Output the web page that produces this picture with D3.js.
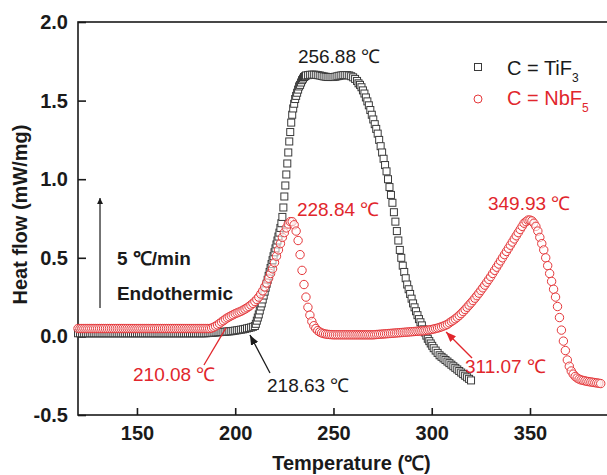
<!DOCTYPE html>
<html><head><meta charset="utf-8">
<script src="https://cdn.jsdelivr.net/npm/d3@7"></script>
<style>body{margin:0;background:#fff}svg{display:block}text{font-family:"Liberation Sans",Arial,sans-serif}</style>
</head><body>
<svg id="c" width="607" height="475"></svg>
<script>
// ---------- data ----------
const xTicks = [150, 200, 250, 300, 350];
const yTicks = [-0.5, 0.0, 0.5, 1.0, 1.5, 2.0];
const seriesNames = ["C = TiF", "C = NbF"];
const seriesSubs = ["3", "5"];
const xTitle = "Temperature (℃)";
const yTitle = "Heat flow (mW/mg)";

// C = TiF3 : [temperature, heat flow]
const tif3 = [
[120,.02],[121,.02],[122,.02],[123,.02],[124,.02],[125,.02],[126,.02],[127,.02],[128,.02],[129,.02],
[130,.02],[131,.02],[132,.02],[133,.02],[134,.02],[135,.02],[136,.02],[137,.02],[138,.02],[139,.02],
[140,.02],[141,.02],[142,.02],[143,.02],[144,.02],[145,.02],[146,.02],[147,.02],[148,.02],[149,.02],
[150,.02],[151,.02],[152,.02],[153,.02],[154,.02],[155,.02],[156,.02],[157,.02],[158,.02],[159,.02],
[160,.02],[161,.02],[162,.02],[163,.02],[164,.02],[165,.02],[166,.02],[167,.02],[168,.02],[169,.02],
[170,.02],[171,.02],[172,.02],[173,.02],[174,.02],[175,.02],[176,.02],[177,.02],[178,.02],[179,.02],
[180,.02],[181,.02],[182,.02],[183,.02],[184,.02],[185,.02],
[186,.021],[187,.022],[188,.023],[189,.024],[190,.025],[191,.026],[192,.027],[193,.028],[194,.029],[195,.03],
[196,.031],[197,.032],[198,.033],[199,.035],[200,.037],[201,.039],[202,.041],[203,.043],[204,.045],[205,.048],
[206,.051],[207,.054],[208,.057],[209,.061],[210,.066],
[210.5,.08],[211,.10],[211.5,.12],[212,.14],[212.5,.165],[213,.19],[213.5,.21],[214,.235],[214.5,.26],[215,.285],
[215.5,.31],[216,.335],[216.5,.36],[217,.385],[217.5,.41],[218,.435],[218.5,.46],[219,.485],[219.5,.51],[220,.535],
[220.5,.56],[221,.585],[221.5,.61],[222,.635],[222.5,.66],[223,.69],[223.5,.72],[224,.76],[224.5,.82],[225,.89],
[225.5,.96],[226,1.03],[226.5,1.10],[227,1.17],[227.5,1.24],[228,1.30],[228.5,1.36],[229,1.41],[229.5,1.45],[230,1.48],
[230.5,1.51],[231,1.53],[231.5,1.55],[232,1.57],[232.5,1.59],[233,1.60],[233.5,1.615],[234,1.63],[234.5,1.64],[235,1.65],
[235.5,1.655],[236,1.66],
[237,1.662],[238,1.664],[239,1.665],[240,1.665],[241,1.664],[242,1.662],[243,1.66],[244,1.657],[245,1.654],[246,1.652],
[247,1.65],[248,1.65],[249,1.65],[250,1.65],[251,1.652],[252,1.655],[253,1.658],[254,1.66],[255,1.662],[256,1.662],
[257,1.662],[258,1.66],[259,1.655],[260,1.648],[261,1.638],[262,1.625],
[262.75,1.61],[263.5,1.60],[264.25,1.585],[265,1.565],[265.75,1.545],[266.5,1.52],[267.25,1.495],[268,1.47],[268.75,1.44],[269.5,1.41],
[270.25,1.38],[271,1.35],[271.75,1.32],[272.5,1.29],[273.25,1.25],[274,1.21],[274.75,1.17],[275.5,1.13],[276.25,1.09],[277,1.05],
[277.75,1.00],[278.5,.95],[279.25,.90],[280,.85],[280.75,.79],[281.5,.73],[282.25,.67],[283,.61],[283.75,.55],[284.5,.50],
[285.25,.45],[286,.41],[286.75,.37],[287.5,.33],[288.25,.30],[289,.27],[289.75,.24],[290.5,.21],[291.25,.185],[292,.16],
[292.75,.135],[293.5,.11],[294.25,.09],[295,.07],[295.75,.045],[296.5,.025],[297.25,.005],[298,-.015],[298.75,-.03],[299.5,-.045],
[300.25,-.06],[301,-.075],[302,-.09],[303,-.105],[304,-.12],[305,-.13],[306,-.14],[307,-.15],[308,-.16],[309,-.17],
[310,-.18],[311,-.19],[312,-.20],[313,-.21],[314,-.22],[315,-.23],[316,-.24],[317,-.25],[318,-.26],[319,-.27],[320,-.28]
];

// C = NbF5 : [temperature, heat flow]
const nbf5 = [
[120,.05],[121,.05],[122,.05],[123,.05],[124,.05],[125,.05],[126,.05],[127,.05],[128,.05],[129,.05],
[130,.05],[131,.05],[132,.05],[133,.05],[134,.05],[135,.05],[136,.05],[137,.05],[138,.05],[139,.05],
[140,.05],[141,.05],[142,.05],[143,.05],[144,.05],[145,.05],[146,.05],[147,.05],[148,.05],[149,.05],
[150,.05],[151,.05],[152,.05],[153,.05],[154,.05],[155,.05],[156,.05],[157,.05],[158,.05],[159,.05],
[160,.05],[161,.05],[162,.05],[163,.05],[164,.05],[165,.05],[166,.05],[167,.05],[168,.05],[169,.05],
[170,.05],[171,.05],[172,.05],[173,.05],[174,.05],[175,.05],[176,.05],[177,.05],[178,.05],[179,.05],
[180,.05],[181,.05],[182,.05],[183,.05],[184,.05],[185,.05],[186,.05],[187,.05],
[188,.053],[189,.058],[190,.065],[191,.073],[192,.082],[193,.092],[194,.10],[195,.11],[196,.118],[197,.125],
[198,.132],[199,.138],[200,.145],[201,.15],[202,.155],[203,.16],[204,.167],[205,.174],[206,.182],[207,.19],
[208,.20],[209,.21],[210,.222],[211,.235],[212,.25],[213,.27],[214,.29],[215,.315],[216,.34],[217,.37],
[218,.40],[219,.43],[220,.47],[221,.51],[222,.55],[223,.59],[224,.63],[225,.66],[226,.69],[227,.715],
[228,.73],[229,.73],[230,.71],[231,.67],[232,.61],[233,.52],[234,.42],[235,.33],[236,.25],[237,.185],
[238,.135],[239,.095],[240,.068],[241,.05],[242,.037],[243,.028],[244,.022],[245,.018],[246,.015],[247,.013],
[248,.012],[249,.011],[250,.01],[251,.01],[252,.01],[253,.01],[254,.01],[255,.01],[256,.01],[257,.01],
[258,.01],[259,.01],[260,.01],[261,.01],[262,.01],[263,.01],[264,.01],[265,.01],[266,.01],[267,.01],
[268,.01],[269,.01],[270,.01],[271,.011],[272,.012],[273,.013],[274,.014],[275,.015],[276,.016],[277,.017],
[278,.018],[279,.019],[280,.02],[281,.021],[282,.022],[283,.023],[284,.024],[285,.025],[286,.026],[287,.027],
[288,.028],[289,.029],[290,.03],[291,.031],[292,.032],[293,.033],[294,.034],[295,.035],[296,.036],[297,.038],
[298,.04],[299,.042],[300,.044],[301,.047],[302,.05],[303,.053],[304,.057],[305,.061],[306,.066],[307,.071],
[308,.077],[309,.086],[310,.095],[311,.103],[312,.112],[313,.122],[314,.133],[315,.145],[316,.158],[317,.171],
[318,.185],[319,.199],[320,.213],[321,.228],[322,.243],[323,.259],[324,.275],[325,.292],[326,.309],[327,.326],
[328,.344],[329,.362],[330,.38],[331,.40],[332,.42],[333,.44],[334,.46],[335,.48],[336,.50],[337,.52],
[338,.54],[339,.56],[340,.58],[341,.60],[342,.62],[343,.64],[344,.66],[345,.68],[346,.70],[347,.72],
[348,.73],[349,.74],[350,.74],[351,.735],[352,.72],[353,.70],[354,.67],[355,.63],[356,.59],[357,.55],
[358,.50],[359,.45],[360,.40],[361,.35],[362,.30],[363,.25],[364,.19],[365,.12],[366,.04],[367,-.03],
[368,-.09],[369,-.15],[370,-.19],[371,-.22],[372,-.24],[373,-.255],[374,-.265],[375,-.272],[376,-.277],[377,-.28],
[378,-.283],[379,-.286],[380,-.288],[381,-.29],[382,-.292],[383,-.294],[384,-.296],[385,-.298],[386,-.30]
];

const peakTexts = ["256.88 ℃", "228.84 ℃", "349.93 ℃", "210.08 ℃", "218.63 ℃", "311.07 ℃"];
const rateText = "5 ℃/min";
const endoText = "Endothermic";

// ---------- drawing ----------
const BLACK = "#1a1a1a", RED = "#e1262c", REDM = "#e5383b", SQ = "#3a3a3a";
const svg = d3.select("#c");
const x = d3.scaleLinear().domain([120, 390]).range([78, 608.6]);
const y = d3.scaleLinear().domain([-0.5, 2.0]).range([415, 22]);

const defs = svg.append("defs");
function head(id, col) {
  defs.append("marker").attr("id", id).attr("viewBox", "0 0 10 8").attr("refX", 10).attr("refY", 4)
    .attr("markerWidth", 10).attr("markerHeight", 8).attr("markerUnits", "userSpaceOnUse").attr("orient", "auto")
    .append("path").attr("d", "M0,0 L10,4 L0,8 Z").attr("fill", col);
}
head("hb", BLACK); head("hr", RED);
defs.append("marker").attr("id", "hv").attr("viewBox", "0 0 6 11").attr("refX", 6).attr("refY", 3)
  .attr("markerWidth", 6).attr("markerHeight", 11).attr("markerUnits", "userSpaceOnUse").attr("orient", "auto")
  .append("path").attr("d", "M0,0 L6,3 L0,6 Z").attr("fill", BLACK);

// axes
const xAxis = d3.axisBottom(x).tickValues(xTicks).tickSize(-7).tickPadding(11).tickFormat(d => String(d));
const yAxis = d3.axisLeft(y).tickValues(yTicks).tickSize(-8).tickPadding(10).tickFormat(d => d.toFixed(1));
const gx = svg.append("g").attr("transform", `translate(0,${y(-0.5)})`).call(xAxis);
const gy = svg.append("g").attr("transform", `translate(${x(120)},0)`).call(yAxis);
[gx, gy].forEach(g => {
  g.select(".domain").remove();
  g.selectAll(".tick line").attr("stroke", BLACK).attr("stroke-width", 1.6);
  g.selectAll(".tick text").attr("fill", BLACK).style("font-size", "20px").style("font-weight", "bold");
});

svg.append("rect").attr("x", x(120)).attr("y", y(2.0)).attr("width", x(390) - x(120)).attr("height", y(-0.5) - y(2.0))
  .attr("fill", "none").attr("stroke", BLACK).attr("stroke-width", 1.6);

// axis titles
svg.append("text").attr("x", (x(120) + 607) / 2 + 9).attr("y", 470).attr("text-anchor", "middle")
  .style("font-size", "20px").style("font-weight", "bold").attr("fill", BLACK).text(xTitle);
svg.append("text").attr("transform", `translate(27,${(y(2) + y(-0.5)) / 2 - 4}) rotate(-90)`).attr("text-anchor", "middle")
  .style("font-size", "20px").style("font-weight", "bold").attr("fill", BLACK).text(yTitle);

// series
svg.append("g").selectAll("rect").data(tif3).join("rect")
  .attr("x", d => x(d[0]) - 3.5).attr("y", d => y(d[1]) - 3.5).attr("width", 7).attr("height", 7)
  .attr("fill", "#fff").attr("stroke", SQ).attr("stroke-width", 1);
svg.append("g").selectAll("circle").data(nbf5).join("circle")
  .attr("cx", d => x(d[0])).attr("cy", d => y(d[1])).attr("r", 4.2)
  .attr("fill", "rgba(255,255,255,0.55)").attr("stroke", REDM).attr("stroke-width", 1);

// annotations (data coordinates)
const ann = [
  {t: peakTexts[0], T: 231.9, v: 1.739, c: BLACK},
  {t: peakTexts[1], T: 231.4, v: 0.766, c: RED},
  {t: peakTexts[2], T: 328.6, v: 0.804, c: RED},
  {t: peakTexts[3], T: 148.0, v: -0.284, c: RED},
  {t: peakTexts[4], T: 216.2, v: -0.354, c: BLACK},
  {t: peakTexts[5], T: 316.9, v: -0.233, c: RED}
];
svg.append("g").selectAll("text").data(ann).join("text")
  .attr("x", d => x(d.T)).attr("y", d => y(d.v)).attr("fill", d => d.c)
  .style("font-size", "19px").text(d => d.t);

// pointers
svg.append("line").attr("x1", x(184.1)).attr("y1", y(-0.182)).attr("x2", x(195.3)).attr("y2", y(0.054))
  .attr("stroke", RED).attr("stroke-width", 1.3);
svg.append("line").attr("x1", x(217.7)).attr("y1", y(-0.233)).attr("x2", x(207.5)).attr("y2", y(0.009))
  .attr("stroke", BLACK).attr("stroke-width", 1.3).attr("marker-end", "url(#hb)");
svg.append("line").attr("x1", x(320.5)).attr("y1", y(-0.137)).attr("x2", x(307.3)).attr("y2", y(0.028))
  .attr("stroke", RED).attr("stroke-width", 1.3).attr("marker-end", "url(#hr)");

// endothermic arrow and text
svg.append("line").attr("x1", x(131.2)).attr("y1", y(0.18)).attr("x2", x(131.2)).attr("y2", y(0.88))
  .attr("stroke", BLACK).attr("stroke-width", 1.2).attr("marker-end", "url(#hv)");
svg.append("text").attr("x", x(139.8)).attr("y", y(0.455)).style("font-size", "19px").style("font-weight", "bold")
  .attr("fill", BLACK).text(rateText);
svg.append("text").attr("x", x(139.8)).attr("y", y(0.232)).style("font-size", "19px").style("font-weight", "bold")
  .attr("fill", BLACK).text(endoText);

// legend
const lg = svg.append("g");
lg.append("rect").attr("x", 474.5).attr("y", 63.5).attr("width", 7).attr("height", 7)
  .attr("fill", "#fff").attr("stroke", SQ).attr("stroke-width", 1);
lg.append("circle").attr("cx", 478).attr("cy", 99).attr("r", 4)
  .attr("fill", "#fff").attr("stroke", REDM).attr("stroke-width", 1);
[[75, BLACK], [105, RED]].forEach((p, i) => {
  const t = lg.append("text").attr("x", 507).attr("y", p[0]).attr("fill", p[1]).style("font-size", "20px");
  t.append("tspan").text(seriesNames[i]);
  t.append("tspan").attr("dy", 7).style("font-size", "12px").text(seriesSubs[i]);
});
</script>
</body></html>
